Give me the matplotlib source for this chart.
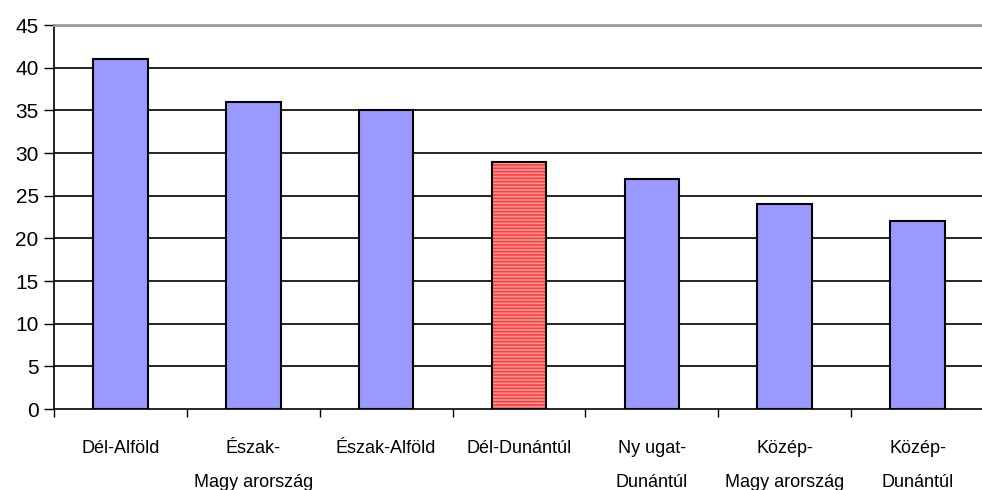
import matplotlib
matplotlib.use("Agg")
import matplotlib.pyplot as plt
import numpy as np

categories = ["Dél-Alföld", "Észak-\nMagy arország", "Észak-Alföld", "Dél-Dunántúl",
              "Ny ugat-\nDunántúl", "Közép-\nMagy arország", "Közép-\nDunántúl"]
values = [41, 36, 35, 29, 27, 24, 22]
highlight = "Dél-Dunántúl"
yticks = list(range(0, 50, 5))

plt.rcParams['font.family'] = ['Liberation Sans', 'DejaVu Sans']
plt.rcParams['hatch.linewidth'] = 1.2

fig = plt.figure(figsize=(9.82, 4.9), dpi=100)
ax = fig.add_axes([54/982, 81/490, 1 - 54/982 + 0.002, 384/490])

x = np.arange(len(categories))
for xi, cat, v in zip(x, categories, values):
    if cat == highlight:
        ax.bar(xi, v, width=0.41, color='#ff9a9a', edgecolor='#ff3b3b', hatch='-----',
               linewidth=0, zorder=3)
        ax.bar(xi, v, width=0.41, fill=False, edgecolor='black', linewidth=1.5, zorder=4)
    else:
        ax.bar(xi, v, width=0.41, color='#9999ff', edgecolor='black', linewidth=1.5, zorder=3)

ax.set_xlim(-0.5, len(categories) - 0.5)
ax.set_ylim(0, 45)
ax.set_yticks(yticks)
ax.set_yticklabels([str(t) for t in yticks], fontsize=15)
for t in yticks[1:-1]:
    ax.axhline(t, color='black', linewidth=1.2, zorder=1)

ax.set_xticks(x)
ax.set_xticklabels(categories, fontsize=13, linespacing=2.35)
ax.tick_params(axis='x', length=0, pad=22)
ax.set_xticks(np.arange(len(categories) + 1) - 0.5, minor=True)
ax.tick_params(axis='x', which='minor', length=6, width=1, color='black')
ax.tick_params(axis='y', length=7, width=1, color='black', pad=4)

ax.spines['right'].set_visible(False)
ax.spines['top'].set_color('#999999')
ax.spines['top'].set_linewidth(2)
ax.spines['left'].set_linewidth(1.2)
ax.spines['bottom'].set_linewidth(1.2)

fig.savefig("out.png", dpi=100)
